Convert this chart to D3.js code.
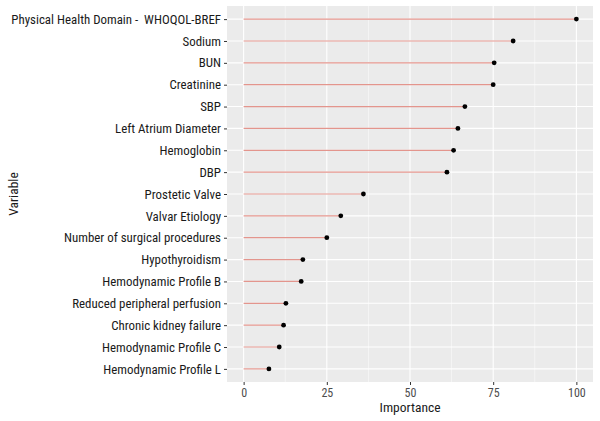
<!DOCTYPE html>
<html><head><meta charset="utf-8">
<script src="https://cdn.jsdelivr.net/npm/d3@7"></script>
<style>
body{margin:0;background:#fff;}
text{font-family:"Liberation Sans Narrow","Roboto Condensed","DejaVu Sans Condensed",sans-serif;white-space:pre;}
</style></head>
<body><svg id="chart" width="600" height="421"></svg>
<script>
const variables = ["Physical Health Domain -  WHOQOL-BREF","Sodium","BUN","Creatinine","SBP","Left Atrium Diameter","Hemoglobin","DBP","Prostetic Valve","Valvar Etiology","Number of surgical procedures","Hypothyroidism","Hemodynamic Profile B","Reduced peripheral perfusion","Chronic kidney failure","Hemodynamic Profile C","Hemodynamic Profile L"];
const importance = [100,81.0,75.3,75.0,66.5,64.4,63.1,61.1,36.0,29.2,25.0,17.8,17.3,12.7,12.0,10.7,7.6];
const xTicks = [0,25,50,75,100];
const xMinor = [12.5,37.5,62.5,87.5];

const svg = d3.select("#chart");
const panel = {left:227, right:593, top:6, bottom:382};
const x = d3.scaleLinear().domain([-5,105]).range([panel.left,panel.right]);
const y = d3.scalePoint().domain(variables).range([panel.top,panel.bottom]).padding(0.6);

svg.append("rect").attr("x",panel.left).attr("y",panel.top)
  .attr("width",panel.right-panel.left).attr("height",panel.bottom-panel.top).attr("fill","#EBEBEB");
const g = svg.append("g");
g.selectAll(".minor").data(xMinor).join("line")
  .attr("x1",d=>x(d)).attr("x2",d=>x(d)).attr("y1",panel.top).attr("y2",panel.bottom)
  .attr("stroke","#fff").attr("stroke-width",0.5);
g.selectAll(".majx").data(xTicks).join("line")
  .attr("x1",d=>x(d)).attr("x2",d=>x(d)).attr("y1",panel.top).attr("y2",panel.bottom)
  .attr("stroke","#fff").attr("stroke-width",1.1);
g.selectAll(".majy").data(variables).join("line")
  .attr("x1",panel.left).attr("x2",panel.right).attr("y1",d=>y(d)).attr("y2",d=>y(d))
  .attr("stroke","#fff").attr("stroke-width",1.1);

const data = variables.map((v,i)=>({v, val:importance[i]}));
svg.selectAll(".seg").data(data).join("line")
  .attr("x1",x(0)).attr("x2",d=>x(d.val)).attr("y1",d=>y(d.v)).attr("y2",d=>y(d.v))
  .attr("stroke","#E3958D").attr("stroke-width",1.2);
svg.selectAll(".pt").data(data).join("circle")
  .attr("cx",d=>x(d.val)).attr("cy",d=>y(d.v)).attr("r",2.4).attr("fill","#000");

// axes
const xAxis = svg.append("g").attr("transform",`translate(0,${panel.bottom})`)
  .call(d3.axisBottom(x).tickValues(xTicks).tickSize(3).tickPadding(3));
xAxis.select(".domain").remove();
xAxis.selectAll("line").attr("stroke","#333");
xAxis.selectAll("text").attr("fill","#4D4D4D").style("font-size","12px");

const yAxis = svg.append("g").attr("transform",`translate(${panel.left},0)`)
  .call(d3.axisLeft(y).tickSize(3).tickPadding(3));
yAxis.select(".domain").remove();
yAxis.selectAll("line").attr("stroke","#333");
yAxis.selectAll("text").attr("fill","#1a1a1a").style("font-size","12.9px");

svg.append("text").attr("x",(panel.left+panel.right)/2).attr("y",412)
  .attr("text-anchor","middle").style("font-size","13.5px").attr("fill","#1a1a1a").text("Importance");
svg.append("text").attr("transform",`translate(18,${(panel.top+panel.bottom)/2}) rotate(-90)`)
  .attr("text-anchor","middle").style("font-size","13.5px").attr("fill","#1a1a1a").text("Variable");
</script></body></html>
